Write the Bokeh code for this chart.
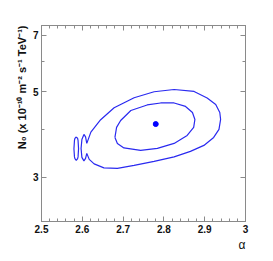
from bokeh.plotting import figure
from bokeh.models import (LinearAxis, LogAxis, FixedTicker, SingleIntervalTicker,
                          CustomJSTickFormatter, Title)
from bokeh.embed import file_html
from bokeh.resources import INLINE

# ---- data (alpha, N0 in 1e-10 m^-2 s^-1 TeV^-1) ----
outer_alpha = [2.611, 2.621, 2.645, 2.678, 2.727, 2.776, 2.825, 2.874, 2.906, 2.927,
               2.937, 2.939, 2.935, 2.922, 2.898, 2.865, 2.825, 2.776, 2.727, 2.686,
               2.653, 2.629, 2.617, 2.611,
               2.608, 2.604, 2.599, 2.597, 2.599, 2.604, 2.608, 2.611]
outer_n0 = [3.670, 3.926, 4.228, 4.542, 4.822, 4.998, 5.067, 5.007, 4.816, 4.633,
            4.416, 4.235, 3.990, 3.803, 3.626, 3.498, 3.385, 3.295, 3.217, 3.160,
            3.170, 3.246, 3.335, 3.457,
            3.355, 3.305, 3.375, 3.561, 3.758, 3.872, 3.815, 3.670]

loop_alpha = [2.5852, 2.5885, 2.5896, 2.5908, 2.5896, 2.5885, 2.5852, 2.5819, 2.5808, 2.5795, 2.5808, 2.5819, 2.5852]
loop_n0 = [3.813, 3.780, 3.736, 3.555, 3.385, 3.350, 3.315, 3.350, 3.385, 3.555, 3.736, 3.780, 3.813]

inner_alpha = [2.680, 2.684, 2.694, 2.719, 2.759, 2.792, 2.825, 2.853, 2.870, 2.876,
               2.873, 2.857, 2.825, 2.784, 2.743, 2.702, 2.686, 2.680]
inner_n0 = [3.803, 4.038, 4.210, 4.469, 4.619, 4.674, 4.674, 4.578, 4.416, 4.235,
            4.038, 3.849, 3.669, 3.561, 3.519, 3.572, 3.669, 3.803]

best_alpha = [2.780]
best_n0 = [4.12]

y_major = [3, 5, 7]
y_minor = [4, 6]

LINE = "#2a2af0"
AXC = "#8a8a8a"
FONT = "Liberation Sans"

p = figure(width=265, height=253, x_range=(2.5, 3.0), y_range=(2.30, 7.43),
           y_axis_type="log", output_backend="svg", toolbar_location=None,
           min_border_left=41, min_border_right=20, min_border_top=25,
           min_border_bottom=32)
p.xgrid.visible = False
p.ygrid.visible = False
p.outline_line_color = AXC
p.background_fill_color = "white"
p.border_fill_color = "white"

p.line(outer_alpha, outer_n0, line_color=LINE, line_width=1.2)
p.line(loop_alpha, loop_n0, line_color=LINE, line_width=1.2)
p.line(inner_alpha, inner_n0, line_color=LINE, line_width=1.2)
p.scatter(best_alpha, best_n0, size=5, color="#0000ff")

def style(ax, labels=True):
    ax.axis_line_color = AXC
    ax.major_tick_line_color = AXC
    ax.minor_tick_line_color = AXC
    ax.major_tick_in = 5
    ax.major_tick_out = 0
    ax.minor_tick_in = 3
    ax.minor_tick_out = 0
    ax.major_label_standoff = 3
    ax.major_label_text_font = FONT
    ax.major_label_text_font_style = "bold"
    ax.major_label_text_font_size = "10px"
    ax.major_label_text_color = "#111111"
    if not labels:
        ax.formatter = CustomJSTickFormatter(code="return ''")

xa = p.xaxis[0]
xa.ticker = SingleIntervalTicker(interval=0.1, num_minor_ticks=5)
xa.formatter = CustomJSTickFormatter(code="return (Math.abs(tick-Math.round(tick))<1e-9) ? tick.toFixed(0) : tick.toFixed(1);")
style(xa)
ya = p.yaxis[0]
ya.ticker = FixedTicker(ticks=y_major, minor_ticks=y_minor)
ya.formatter = CustomJSTickFormatter(code="return tick.toFixed(0);")
style(ya)

top = LinearAxis(ticker=SingleIntervalTicker(interval=0.1, num_minor_ticks=5))
style(top, labels=False)
p.add_layout(top, "above")
right = LogAxis(ticker=FixedTicker(ticks=y_major, minor_ticks=y_minor))
style(right, labels=False)
p.add_layout(right, "right")

p.add_layout(Title(text="α", align="right", text_font=FONT, text_font_size="12px",
                   text_font_style="normal", text_color="#111111", standoff=0), "below")
p.add_layout(Title(text="N₀ (x 10⁻¹⁰ m⁻² s⁻¹ TeV⁻¹)", align="right", text_font=FONT,
                   text_font_size="11px", text_font_style="bold", text_color="#111111",
                   standoff=3), "left")

open("out.html", "w").write(file_html(p, INLINE))
